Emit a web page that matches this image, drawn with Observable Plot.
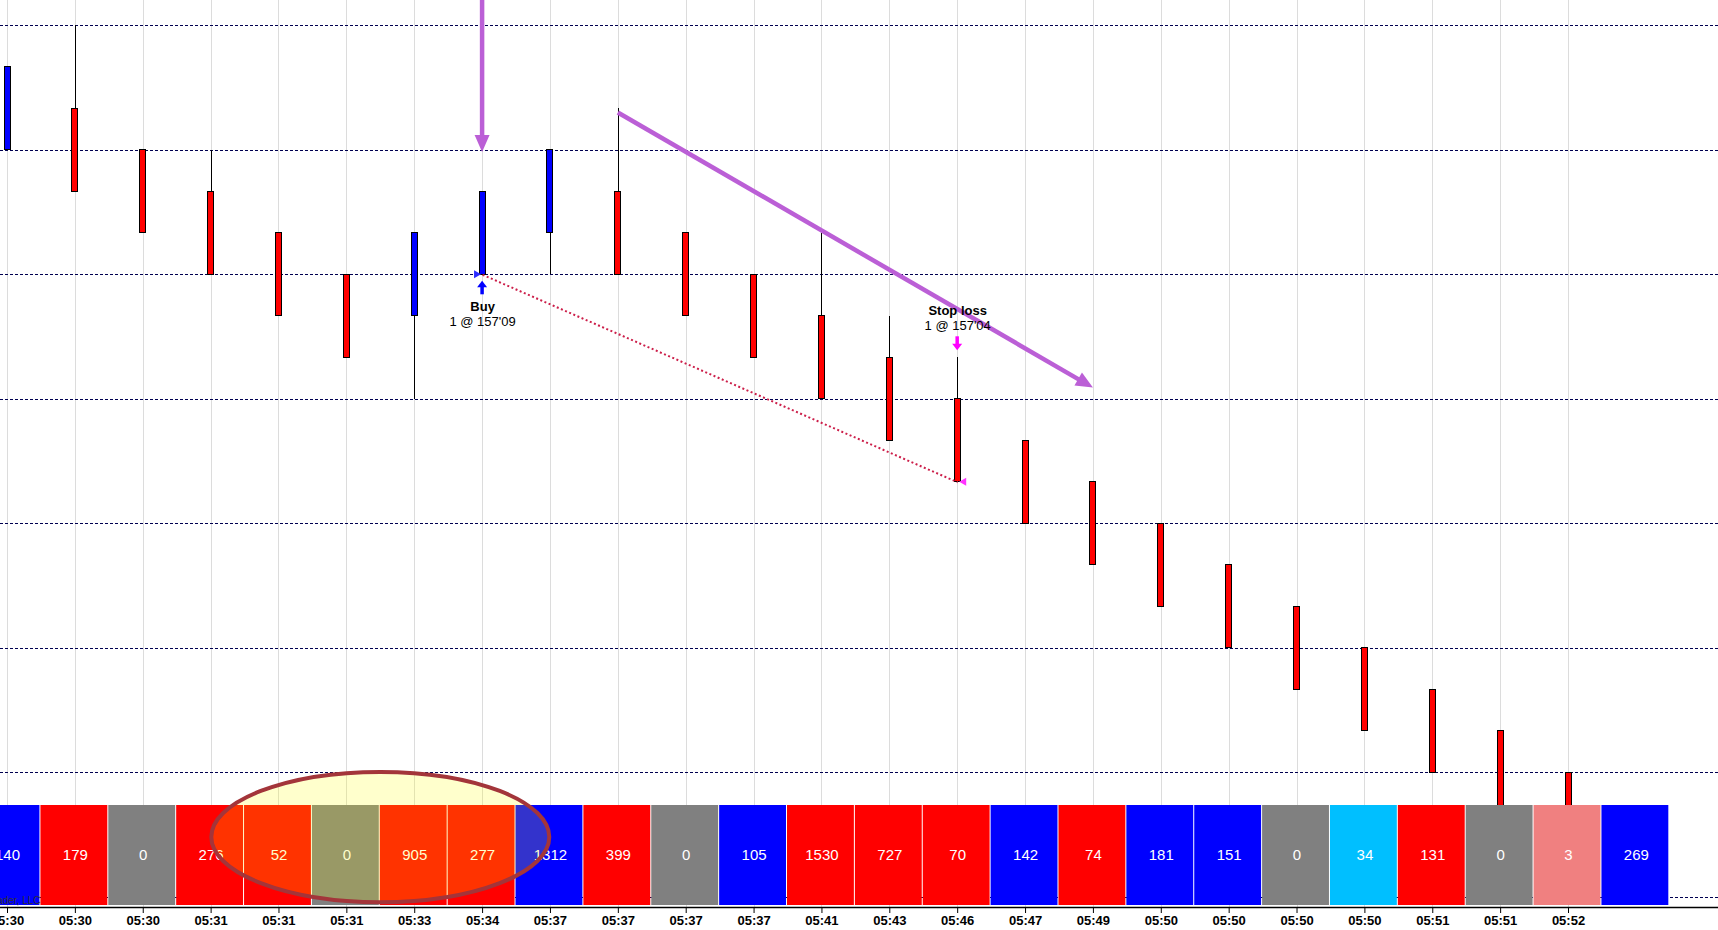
<!DOCTYPE html>
<html>
<head>
<meta charset="utf-8">
<script src="https://cdn.jsdelivr.net/npm/d3@7"></script>
<script src="https://cdn.jsdelivr.net/npm/@observablehq/plot@0.6"></script>
<style>
  html, body { margin: 0; padding: 0; background: #fff; overflow: hidden; }
  #chart { width: 1718px; height: 930px; }
</style>
</head>
<body>
<div id="chart"></div>
<script>
// ---------------- DATA ----------------
const timeLabels = ["05:30","05:30","05:30","05:31","05:31","05:31","05:33","05:34","05:37","05:37","05:37","05:37",
                    "05:41","05:43","05:46","05:47","05:49","05:50","05:50","05:50","05:50","05:51","05:51","05:52"];
const opens  = ["157'12","157'13","157'12","157'11","157'10","157'09","157'08","157'09","157'10","157'11","157'10","157'09",
                "157'08","157'07","157'06","157'05","157'04","157'03","157'02","157'01","157'00","156'31","156'30","156'29"];
const closes = ["157'14","157'11","157'10","157'09","157'08","157'07","157'10","157'11","157'12","157'09","157'08","157'07",
                "157'06","157'05","157'04","157'03","157'02","157'01","157'00","156'31","156'30","156'29","156'28","156'27"];
const highs  = ["157'14","157'15","157'12","157'12","157'10","157'09","157'10","157'11","157'12","157'13","157'10","157'09",
                "157'10","157'08","157'07","157'05","157'04","157'03","157'02","157'01","157'00","156'31","156'30","156'29"];
const lows   = ["157'12","157'11","157'10","157'09","157'08","157'07","157'06","157'09","157'09","157'09","157'08","157'07",
                "157'06","157'05","157'04","157'03","157'02","157'01","157'00","156'31","156'30","156'29","156'28","156'27"];
const volumes = [140,179,0,276,52,0,905,277,1312,399,0,105,1530,727,70,142,74,181,151,0,34,131,0,3,269];
const volumeSides = ["up","down","flat","down","down","flat","down","down","up","down","flat","up","down","down","down",
                     "up","down","up","up","flat","upLight","down","flat","downLight","up"];
const gridPrices = ["157'15","157'12","157'09","157'06","157'03","157'00","156'29","156'26"];
const entryTrade = {bar: 7, price: "157'09", title: "Buy", detail: "1 @ 157'09"};
const exitTrade  = {bar: 14, price: "157'04", title: "Stop loss", detail: "1 @ 157'04"};
const drawnArrows = [
  {bar1: 7, price1: "157'16", bar2: 7, price2: "157'11.95"},
  {bar1: 9, price1: "157'12.9", bar2: 16, price2: "157'06.27"}
];
const highlightEllipse = {bar: 5.5, price: "156'27.44", halfBars: 2.49, halfTicks: 1.57};
const copyright = "© 2014 NinjaTrader, LLC";

// ---------------- HELPERS / LAYOUT ----------------
const p32 = s => { const [a, b] = s.split("'"); return +a + (+b) / 32; };
const W = 1718, H = 930, MB = 23, FRAME_BOTTOM = H - MB;
const FIRST_PX = 7, SPACING = 67.87;
const REF_PRICE = p32("157'09"), REF_PX = 274.3, TICK_PX = 41.5, TICK = 1 / 32;
const xDomain = [-FIRST_PX / SPACING, (W - FIRST_PX) / SPACING];
const yDomain = [REF_PRICE - (FRAME_BOTTOM - REF_PX) / TICK_PX * TICK, REF_PRICE + REF_PX / TICK_PX * TICK];
const BODY_HALF = 3 / SPACING;
const VOL_TOP = 805, VOL_BOTTOM = 905, VOL_TEXT = 855;

const sideColor = {up: "#0000ff", down: "#ff0000", flat: "#808080", upLight: "#00bfff", downLight: "#f08080"};

const bars = timeLabels.map((t, i) => ({
  i, time: t, open: p32(opens[i]), close: p32(closes[i]), high: p32(highs[i]), low: p32(lows[i])
}));
const wickBars = bars.filter(d => d.high > Math.max(d.open, d.close) || d.low < Math.min(d.open, d.close));
const volRows = volumes.map((v, i) => ({i, v, side: volumeSides[i]}));
const timeIdx = timeLabels.map((_, i) => i);

function arrowPath(g, x1, y1, x2, y2, color, w, hl, hw) {
  const dx = x2 - x1, dy = y2 - y1, L = Math.hypot(dx, dy), ux = dx / L, uy = dy / L;
  const bx = x2 - ux * hl, by = y2 - uy * hl;
  g.append("line").attr("x1", x1).attr("y1", y1).attr("x2", bx + ux).attr("y2", by + uy)
    .attr("stroke", color).attr("stroke-width", w);
  g.append("path").attr("d", `M${x2},${y2}L${bx - uy * hw},${by + ux * hw}L${bx + uy * hw},${by - ux * hw}Z`)
    .attr("fill", color);
}

function drawnArrowsMark(index, scales) {
  const X = scales.x, Y = scales.y;
  const g = d3.create("svg:g");
  for (const a of drawnArrows) {
    arrowPath(g, X(a.bar1), Y(p32(a.price1)), X(a.bar2), Y(p32(a.price2)), "#bb5fd6", 4.5, 17, 7.5);
  }
  return g.node();
}

function tradeMarkersMark(index, scales) {
  const X = scales.x, Y = scales.y;
  const g = d3.create("svg:g");
  const eb = bars[entryTrade.bar];
  const ex = X(entryTrade.bar), ey = Y(eb.low);
  arrowPath(g, ex, ey + 20, ex, ey + 6.4, "#0000ff", 3.5, 6.5, 5);
  const py = Y(p32(entryTrade.price));
  g.append("path").attr("d", `M${ex - 8},${py - 4}L${ex - 8},${py + 4}L${ex - 1},${py}Z`).attr("fill", "#2a2aff");
  const xb = bars[exitTrade.bar];
  const xx = X(exitTrade.bar), xy = Y(xb.high);
  arrowPath(g, xx, xy - 21, xx, xy - 7, "#ff00ff", 3.5, 6.5, 5);
  const qy = Y(p32(exitTrade.price));
  g.append("path").attr("d", `M${xx + 9},${qy - 4}L${xx + 9},${qy + 4}L${xx + 2},${qy}Z`).attr("fill", "#ff33ff");
  return g.node();
}

function ellipseMark(index, scales) {
  const X = scales.x, Y = scales.y;
  const e = highlightEllipse;
  const cx = X(e.bar), cy = Y(p32(e.price));
  const rx = X(e.bar + e.halfBars) - cx;
  const ry = Math.abs(Y(p32(e.price) + e.halfTicks * TICK) - cy);
  const g = d3.create("svg:g");
  g.append("ellipse").attr("cx", cx).attr("cy", cy).attr("rx", rx).attr("ry", ry)
    .attr("fill", "#ffff00").attr("fill-opacity", 0.2)
    .attr("stroke", "#a3353a").attr("stroke-width", 4);
  return g.node();
}

const fontFam = "'Liberation Sans', Arial, sans-serif";

const chart = Plot.plot({
  width: W,
  height: H,
  marginTop: 0, marginLeft: 0, marginRight: 0, marginBottom: MB,
  style: {fontFamily: fontFam, fontSize: "13px", fontWeight: "bold", background: "#fff", color: "#000", overflow: "hidden"},
  x: {domain: xDomain, ticks: timeIdx, tickFormat: i => timeLabels[i], tickSize: 6, tickPadding: 2, label: null},
  y: {domain: yDomain, axis: null},
  marks: [
    Plot.ruleX(timeIdx, {x: d => d, stroke: "#dcdcdc", strokeWidth: 1, shapeRendering: "crispEdges"}),
    Plot.ruleY(gridPrices, {y: d => p32(d), stroke: "#000050", strokeWidth: 1, strokeDasharray: "3,2", shapeRendering: "crispEdges"}),
    Plot.ruleX(wickBars, {x: "i", y1: "low", y2: "high", stroke: "#000", strokeWidth: 1, shapeRendering: "crispEdges"}),
    Plot.rect(bars, {
      x1: d => d.i - BODY_HALF, x2: d => d.i + BODY_HALF, y1: "open", y2: "close",
      fill: d => d.close >= d.open ? sideColor.up : sideColor.down, stroke: "#000", strokeWidth: 1,
      shapeRendering: "crispEdges"
    }),
    Plot.link([{a: entryTrade, b: exitTrade}], {
      x1: d => d.a.bar, y1: d => p32(d.a.price), x2: d => d.b.bar, y2: d => p32(d.b.price),
      stroke: "#cc1f4a", strokeWidth: 2, strokeDasharray: "2,2.5"
    }),
    drawnArrowsMark,
    tradeMarkersMark,
    Plot.text([entryTrade], {x: "bar", y: d => bars[d.bar].low, text: "title", dy: 32.4, fontSize: 13, fontWeight: "bold", fill: "#000"}),
    Plot.text([entryTrade], {x: "bar", y: d => bars[d.bar].low, text: "detail", dy: 46.7, fontSize: 13, fontWeight: "normal", fill: "#000"}),
    Plot.text([exitTrade], {x: "bar", y: d => bars[d.bar].high, text: "title", dy: -46.6, fontSize: 13, fontWeight: "bold", fill: "#000"}),
    Plot.text([exitTrade], {x: "bar", y: d => bars[d.bar].high, text: "detail", dy: -32, fontSize: 13, fontWeight: "normal", fill: "#000"}),
    Plot.rect(volRows, {
      x1: d => d.i - 0.5, x2: d => d.i + 0.5, fill: d => sideColor[d.side],
      insetTop: VOL_TOP, insetBottom: FRAME_BOTTOM - VOL_BOTTOM, insetLeft: 0.5, insetRight: 0.5, dx: -1
    }),
    Plot.text(volRows, {
      x: "i", text: d => String(d.v), frameAnchor: "top", lineAnchor: "middle", dy: VOL_TEXT,
      fill: "#fff", fontSize: 15, fontWeight: "normal"
    }),
    Plot.text([copyright], {
      text: d => d, frameAnchor: "top-left", textAnchor: "end", lineAnchor: "middle", dx: 40, dy: 900,
      fill: "#333", fontSize: 10, fontWeight: "normal"
    }),
    ellipseMark,
    Plot.ruleY([yDomain[0]], {stroke: "#000", strokeWidth: 1.5})
  ]
});
document.getElementById("chart").appendChild(chart);
</script>
</body>
</html>
